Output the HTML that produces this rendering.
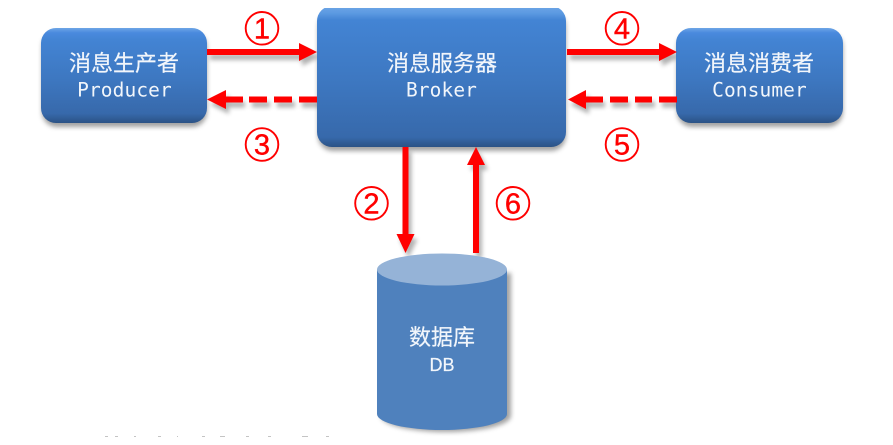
<!DOCTYPE html>
<html><head><meta charset="utf-8">
<style>
html,body{margin:0;padding:0;background:#fff;width:893px;height:445px;overflow:hidden}
svg{display:block}
.cn{font-family:"Liberation Sans","Noto Sans CJK SC",sans-serif;font-size:22px;fill:#f2f6fb;stroke:#f2f6fb;stroke-width:.2px;text-anchor:middle}
.en{font-family:"DejaVu Sans Mono","Liberation Mono",monospace;font-size:19.5px;letter-spacing:.1px;fill:#f2f6fb;text-anchor:middle}
.db{font-family:"Liberation Sans",sans-serif;font-size:18px;fill:#f2f6fb;stroke:#f2f6fb;stroke-width:.2px;text-anchor:middle}
.num{font-family:"Liberation Sans",sans-serif;font-size:29px;fill:#ff0000;stroke:#ff0000;stroke-width:.4px;text-anchor:middle}
.ring{fill:none;stroke:#ff0000;stroke-width:1.9}
</style></head><body>
<svg width="893" height="445" viewBox="0 0 893 445" xmlns="http://www.w3.org/2000/svg">
<defs>
<linearGradient id="g" x1="0" y1="0" x2="0" y2="1">
<stop offset="0" stop-color="#6ea6e6"/><stop offset=".05" stop-color="#4a8ade"/><stop offset=".12" stop-color="#4384d4"/><stop offset=".55" stop-color="#3d77c0"/><stop offset=".9" stop-color="#3769ab"/><stop offset="1" stop-color="#2b5285"/>
</linearGradient>
<linearGradient id="gb" x1="0" y1="0" x2="0" y2="1">
<stop offset="0" stop-color="#6ea6e6"/><stop offset=".05" stop-color="#5c9ae2"/><stop offset=".1" stop-color="#4384d4"/><stop offset=".55" stop-color="#3d77c0"/><stop offset=".93" stop-color="#3769ab"/><stop offset="1" stop-color="#2b5285"/>
</linearGradient>
<filter id="b" x="-20%" y="-20%" width="140%" height="140%"><feGaussianBlur stdDeviation="2.5"/></filter>
<filter id="s" x="-30%" y="-60%" width="160%" height="220%"><feGaussianBlur stdDeviation="2"/></filter>
</defs>

<!-- shadows -->
<g filter="url(#b)" fill="#555" opacity=".55">
<rect x="42" y="32" width="165" height="95" rx="15"/>
<rect x="318" y="12" width="248" height="139" rx="15"/>
<rect x="677" y="32" width="166" height="95" rx="15"/>
<path d="M381 273H511V416A65 16 0 0 1 381 416Z"/>
</g>
<!-- arrow shadows -->
<g filter="url(#s)" opacity=".45" transform="translate(3,5)">
<path d="M207 49H299V43L317 52L299 61V55H207Z" fill="#555"/>
<path d="M567 49H659V43L677 52L659 61V55H567Z" fill="#555"/>
<path d="M207 99.500L226 90V109Z" fill="#555"/>
<path d="M567 99.500L586 90V109Z" fill="#555"/>
<g stroke="#555" stroke-width="6" stroke-dasharray="18 7"><path d="M317 99.500H226"/><path d="M677 99.500H586"/></g>
<path d="M402.500 147H408.500V234H414.500L405.500 253L396.500 234H402.500Z" fill="#555"/>
<path d="M473 253H479V165H485L476 147L467 165H473Z" fill="#555"/>
</g>

<!-- producer -->
<rect x="41" y="28" width="166" height="95" rx="15" fill="url(#g)"/>
<!-- broker -->
<clipPath id="cb"><rect x="300" y="8" width="290" height="150"/></clipPath>
<g clip-path="url(#cb)">
<rect x="317" y="6" width="249" height="141" rx="15" fill="url(#gb)"/>
</g>
<!-- consumer -->
<rect x="676" y="28" width="167" height="95" rx="15" fill="url(#g)"/>

<!-- cylinder -->
<path d="M377 269.500H507V414A65 16 0 0 1 377 414Z" fill="#4f81bd"/>
<ellipse cx="442" cy="269.500" rx="65" ry="16" fill="#95b3d7"/>

<!-- arrows -->
<path d="M207 49H299V43L317 52L299 61V55H207Z" fill="#f00"/>
<path d="M567 49H659V43L677 52L659 61V55H567Z" fill="#f00"/>
<path d="M207 99.500L226 90V109Z" fill="#f00"/>
<path d="M568 99.500L586 90V109Z" fill="#f00"/>
<g stroke="#f00" stroke-width="6">
<path d="M226 99.500H243M249 99.500H267M274 99.500H292M299 99.500H317"/>
<path d="M586 99.500H603M610 99.500H628M635 99.500H652M659 99.500H677"/>
</g>
<path d="M402.500 147H408.500V234H414.500L405.500 253L396.500 234H402.500Z" fill="#f00"/>
<path d="M473 253H479V165H485L476 147L467 165H473Z" fill="#f00"/>

<!-- labels -->
<text class="cn" x="124" y="71">消息生产者</text>
<text class="en" x="124.500" y="96.500">Producer</text>
<text class="cn" x="442" y="71">消息服务器</text>
<text class="en" x="441.500" y="96.500">Broker</text>
<text class="cn" x="759" y="71">消息消费者</text>
<text class="en" x="759.500" y="96.500">Consumer</text>
<text class="cn" x="442" y="345">数据库</text>
<text class="db" x="442" y="371">DB</text>

<circle class="ring" cx="262" cy="28.300" r="16.300"/><text class="num" x="262" y="38.500">1</text>
<circle class="ring" cx="262" cy="144.500" r="16.300"/><text class="num" x="262" y="154.700">3</text>
<circle class="ring" cx="622" cy="28.300" r="16.300"/><text class="num" x="622" y="38.500">4</text>
<circle class="ring" cx="622" cy="144.500" r="16.300"/><text class="num" x="622" y="154.700">5</text>
<circle class="ring" cx="371.500" cy="203.300" r="16.300"/><text class="num" x="371.500" y="213.500">2</text>
<circle class="ring" cx="513" cy="203.300" r="16.300"/><text class="num" x="513" y="213.500">6</text>

<!-- faint clipped text remnants -->
<g fill="#c4c4c4">
<rect x="105" y="436" width="3" height="1"/><rect x="115" y="436" width="3" height="1"/><rect x="134" y="436" width="2" height="1"/>
<rect x="158" y="436" width="3" height="1"/><rect x="177" y="436" width="1" height="1"/><rect x="202" y="436" width="3" height="1"/>
<rect x="220" y="436" width="5" height="1"/><rect x="246" y="436" width="3" height="1"/><rect x="268" y="436" width="3" height="1"/>
<rect x="302" y="436" width="6" height="1"/><rect x="326" y="436" width="3" height="1"/>
</g>
</svg>
</body></html>
